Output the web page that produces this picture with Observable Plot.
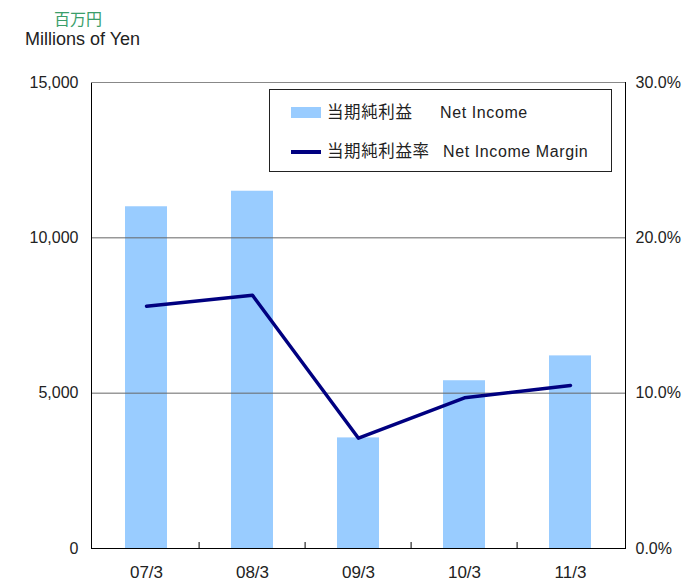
<!DOCTYPE html>
<html>
<head>
<meta charset="utf-8">
<script src="https://cdn.jsdelivr.net/npm/d3@7"></script>
<script src="https://cdn.jsdelivr.net/npm/@observablehq/plot@0.6"></script>
<style>
  body { margin: 0; background: #fff; }
  #wrap { position: relative; width: 686px; height: 581px; font-family: "Liberation Sans", Arial, "Noto Sans CJK JP", sans-serif; color: #222; }
  #wrap svg { position: absolute; left: 0; top: 0; }
  .abs { position: absolute; white-space: nowrap; line-height: 1; }
</style>
</head>
<body>
<div id="wrap">
  <div class="abs" style="left:54px; top:10px; font-size:16px; color:#3a9e6a; font-family:'Noto Sans CJK JP', sans-serif;">百万円</div>
  <div class="abs" style="left:25px; top:30px; font-size:18px;">Millions of Yen</div>
</div>
<script>
const periods = ["07/3", "08/3", "09/3", "10/3", "11/3"];
const netIncome = [11000, 11500, 3560, 5400, 6200];          // 百万円
const netIncomeMargin = [15.6, 16.3, 7.1, 9.7, 10.5];         // %
const leftTicks = [0, 5000, 10000, 15000];
const rightMax = 30;   // right axis 0–30%
const leftMax = 15000; // left axis 0–15,000

const data = periods.map((p, i) => ({period: p, income: netIncome[i], margin: netIncomeMargin[i]}));
const ratio = leftMax / rightMax;
const step = (686 - 91 - 61) / periods.length;

const chart = Plot.plot({
  width: 686,
  height: 581,
  marginLeft: 91,
  marginRight: 61,
  marginTop: 82,
  marginBottom: 33,
  style: {fontFamily: '"Liberation Sans", Arial, sans-serif', fontSize: "16px", color: "#222", background: "transparent"},
  x: {domain: periods, paddingInner: 0.6, paddingOuter: 0.3, label: null},
  y: {domain: [0, leftMax], label: null},
  marks: [
    Plot.barY(data, {x: "period", y: "income", fill: "#99ccff"}),
    Plot.ruleY([5000, 10000], {stroke: "#666", strokeWidth: 1}),
    Plot.frame({stroke: "#000", strokeWidth: 1}),
    Plot.ruleY([leftMax], {stroke: "#888", strokeWidth: 1}),
    Plot.tickX(periods.slice(1), {x: d => d, dx: -step / 2, stroke: "#000", insetTop: 581 - 82 - 33 - 6}),
    Plot.line(data, {x: "period", y: d => d.margin * ratio, stroke: "#000080", strokeWidth: 3.5}),
    Plot.axisY({ticks: leftTicks, tickSize: 0, tickPadding: 13, tickFormat: d3.format(","), fontSize: 16, style: {letterSpacing: "0.8px"}}),
    Plot.axisY({anchor: "right", ticks: leftTicks, tickSize: 0, tickPadding: 10, tickFormat: d => (d / ratio).toFixed(1) + "%", fontSize: 16}),
    Plot.axisX({tickSize: 0, tickPadding: 17, fontSize: 17, style: {letterSpacing: "1.3px"}})
  ]
});
const wrap = document.getElementById("wrap");
wrap.insertBefore(chart, wrap.firstChild);

// legend
const legend = document.createElement("div");
legend.className = "abs";
legend.style.cssText = "left:269px; top:89px; width:341px; height:81px; border:1px solid #222; background:#fff;";
legend.innerHTML = `
  <div class="abs" style="left:21px; top:17px; width:30px; height:11px; background:#99ccff;"></div>
  <div class="abs" style="left:57px; top:13px; font-size:16.5px; letter-spacing:0.6px; font-family:'Noto Sans CJK JP', sans-serif;">当期純利益</div>
  <div class="abs" style="left:170px; top:15px; font-size:16px; letter-spacing:0.6px;">Net Income</div>
  <div class="abs" style="left:21px; top:60px; width:30px; height:3.5px; background:#000080;"></div>
  <div class="abs" style="left:57px; top:52px; font-size:16.5px; letter-spacing:0.6px; font-family:'Noto Sans CJK JP', sans-serif;">当期純利益率</div>
  <div class="abs" style="left:173px; top:54px; font-size:16px; letter-spacing:0.6px;">Net Income Margin</div>
`;
wrap.appendChild(legend);
</script>
</body>
</html>
